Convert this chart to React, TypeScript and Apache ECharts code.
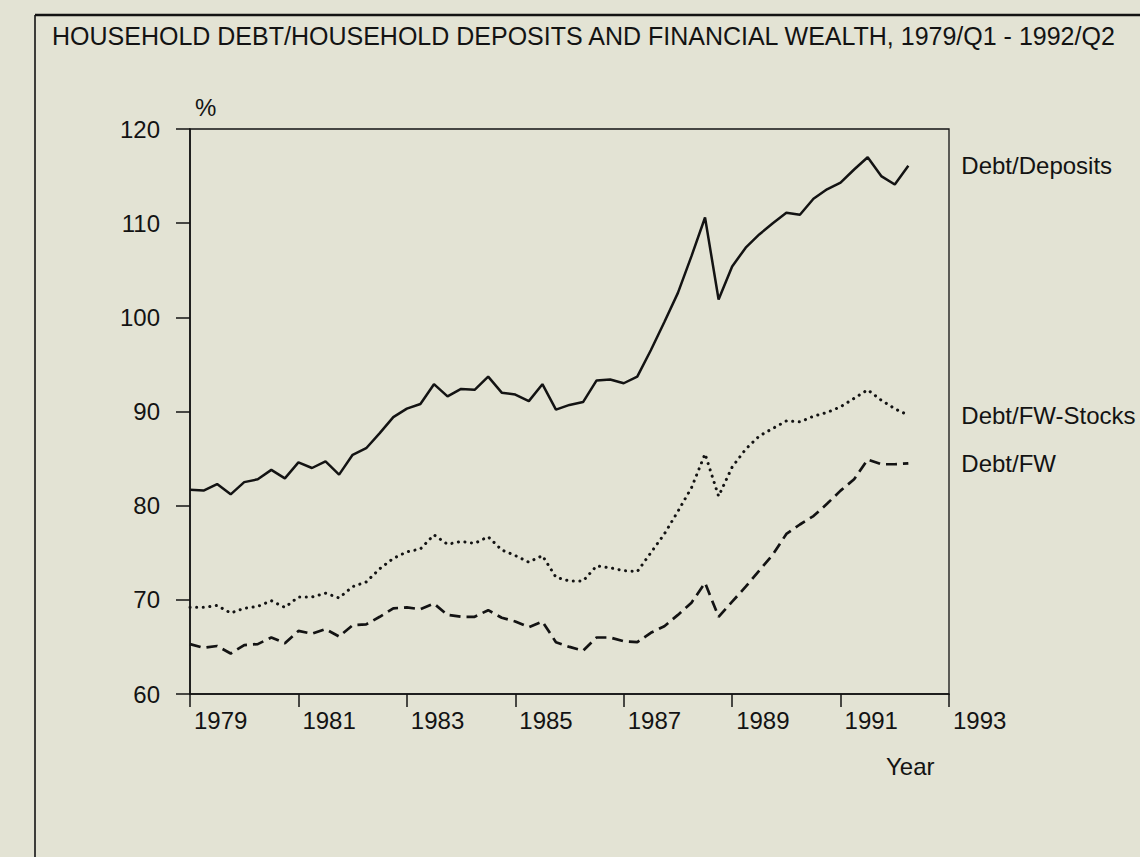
import React, { useEffect, useRef } from "react";
import * as echarts from "echarts";

const titleText = "HOUSEHOLD DEBT/HOUSEHOLD DEPOSITS AND FINANCIAL WEALTH, 1979/Q1 - 1992/Q2";
const startYear = 1979;
const yearTicksEnd = 1993;

// quarterly observations 1979/Q1 .. 1992/Q2 (54 quarters)
const debtDeposits = [
  81.7, 81.6, 82.3, 81.2, 82.5, 82.8, 83.8, 82.9, 84.6, 84.0,
  84.7, 83.3, 85.4, 86.1, 87.7, 89.4, 90.3, 90.8, 92.9, 91.6,
  92.4, 92.3, 93.7, 92.0, 91.8, 91.1, 92.9, 90.2, 90.7, 91.0,
  93.3, 93.4, 93.0, 93.7, 96.5, 99.5, 102.6, 106.5, 110.6, 101.9,
  105.4, 107.4, 108.8, 110.0, 111.1, 110.9, 112.6, 113.6, 114.3, 115.7,
  117.0, 115.0, 114.1, 116.1,
];
const debtFWStocks = [
  69.2, 69.2, 69.4, 68.6, 69.1, 69.3, 69.9, 69.2, 70.3, 70.3,
  70.7, 70.2, 71.4, 71.9, 73.3, 74.4, 75.1, 75.4, 76.9, 75.9,
  76.2, 76.0, 76.7, 75.3, 74.7, 74.0, 74.7, 72.4, 72.0, 72.0,
  73.6, 73.4, 73.1, 73.0, 75.0, 77.0, 79.4, 81.9, 85.5, 81.0,
  84.1, 86.0, 87.4, 88.2, 89.0, 88.9, 89.5, 89.9, 90.5, 91.4,
  92.3, 91.2, 90.3, 89.6,
];
const debtFW = [
  65.3, 64.9, 65.1, 64.3, 65.2, 65.3, 66.0, 65.4, 66.7, 66.4,
  66.9, 66.1, 67.3, 67.4, 68.2, 69.1, 69.2, 69.0, 69.6, 68.4,
  68.2, 68.2, 68.9, 68.1, 67.7, 67.1, 67.7, 65.5, 65.0, 64.6,
  66.0, 66.0, 65.6, 65.5, 66.5, 67.2, 68.4, 69.7, 71.8, 68.2,
  69.8, 71.4, 73.1, 74.8, 77.0, 78.0, 78.9, 80.2, 81.6, 82.8,
  84.9, 84.4, 84.4, 84.5,
];

const seriesNames = ["Debt/Deposits", "Debt/FW-Stocks", "Debt/FW"];
const yTicks = { min: 60, max: 120, step: 10 };

const FONT = "'Liberation Sans', Arial, Helvetica, sans-serif";
const INK = "#131313";
const PAPER = "#e3e3d4";

function toPairs(values: number[]) {
  return values.map((v, i) => [i / 4, v]);
}

export default function App() {
  const ref = useRef<HTMLDivElement>(null);

  useEffect(() => {
    if (!ref.current) return;
    const chart = echarts.init(ref.current, undefined, { renderer: "svg" });
    const endLabel = (name: string) => ({
      show: true,
      formatter: name,
      distance: 53,
      fontSize: 24,
      fontFamily: FONT,
      color: INK,
    });
    chart.setOption({
      animation: false,
      backgroundColor: PAPER,
      title: {
        text: titleText,
        left: 47,
        top: 18,
        textStyle: { fontSize: 25, fontWeight: "normal", fontFamily: FONT, color: INK },
      },
      grid: {
        left: 190,
        right: 191,
        top: 129,
        bottom: 163,
        show: true,
        borderColor: INK,
        borderWidth: 1.3,
        backgroundColor: "transparent",
        containLabel: false,
      },
      xAxis: {
        type: "value",
        min: 0,
        max: yearTicksEnd - startYear,
        interval: 2,
        axisLine: { show: true, lineStyle: { color: INK, width: 1.6 } },
        axisTick: { show: true, inside: false, length: 13, lineStyle: { color: INK, width: 1.5 } },
        splitLine: { show: false },
        axisLabel: {
          formatter: (v: number) => String(startYear + v),
          align: "left",
          margin: 14,
          padding: [0, 0, 0, 4],
          fontSize: 24,
          fontFamily: FONT,
          color: INK,
        },
      },
      yAxis: {
        type: "value",
        min: yTicks.min,
        max: yTicks.max,
        interval: yTicks.step,
        axisLine: { show: true, lineStyle: { color: INK, width: 1.6 } },
        axisTick: { show: true, inside: false, length: 14, lineStyle: { color: INK, width: 1.5 } },
        splitLine: { show: false },
        axisLabel: { margin: 30, fontSize: 24, fontFamily: FONT, color: INK },
      },
      graphic: [
        { type: "line", shape: { x1: 35, y1: 15, x2: 1140, y2: 15 }, style: { stroke: INK, lineWidth: 2.5 } },
        { type: "line", shape: { x1: 35, y1: 15, x2: 35, y2: 857 }, style: { stroke: INK, lineWidth: 1.6 } },
        {
          type: "text",
          left: 195,
          top: 95,
          style: { text: "%", fontSize: 24, fontFamily: FONT, fill: INK },
        },
        {
          type: "text",
          left: 886,
          top: 754,
          style: { text: "Year", fontSize: 24, fontFamily: FONT, fill: INK },
        },
      ],
      series: [
        {
          name: seriesNames[0],
          type: "line",
          data: toPairs(debtDeposits),
          showSymbol: false,
          lineStyle: { color: INK, width: 2.5, type: "solid" },
          endLabel: endLabel(seriesNames[0]),
        },
        {
          name: seriesNames[1],
          type: "line",
          data: toPairs(debtFWStocks),
          showSymbol: false,
          lineStyle: { color: INK, width: 3, type: [0.1, 6.5], cap: "round" },
          endLabel: endLabel(seriesNames[1]),
        },
        {
          name: seriesNames[2],
          type: "line",
          data: toPairs(debtFW),
          showSymbol: false,
          lineStyle: { color: INK, width: 2.7, type: [11, 6] },
          endLabel: endLabel(seriesNames[2]),
        },
      ],
    });
    return () => chart.dispose();
  }, []);

  return (
    <div
      ref={ref}
      style={{ position: "fixed", left: 0, top: 0, width: 1140, height: 857, background: PAPER }}
    />
  );
}
